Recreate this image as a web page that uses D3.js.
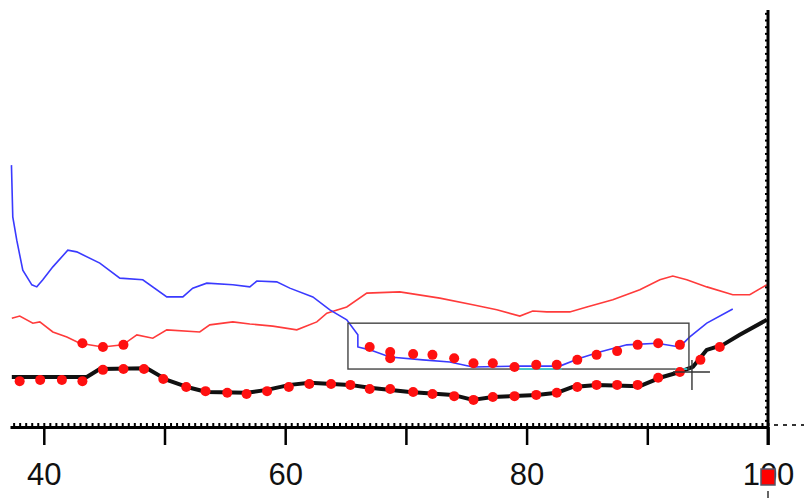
<!DOCTYPE html>
<html>
<head>
<meta charset="utf-8">
<script src="https://cdn.jsdelivr.net/npm/d3@7/dist/d3.min.js"></script>
<style>
  html, body { margin: 0; padding: 0; background: #fff; }
  svg { display: block; }
</style>
</head>
<body>
<svg id="chart" width="804" height="498"></svg>
<script>
// ---- data (x in axis units, y in arbitrary signal units 0..100) ----
const blueX = [37.32,37.43,37.76,38.26,39.01,39.42,39.92,40.75,41.99,42.73,44.64,46.30,48.20,50.19,51.52,52.34,53.50,55.66,57.07,57.65,59.30,60.38,62.29,63.70,65.10,66.02,66.02,67.01,68.67,71.40,73.64,75.54,78.86,82.75,84.41,86.06,88.30,90.79,92.69,93.52,94.93,97.08];
const blueY = [62.8,50.4,44.8,37.6,34.1,33.6,35.3,38.4,42.4,42.0,39.3,35.7,35.3,31.2,31.2,33.3,34.5,34.1,33.6,35.0,34.8,33.3,31.2,28.1,25.7,22.1,19.2,18.5,16.8,16.1,15.6,14.4,14.6,14.6,16.5,18.0,19.7,20.1,19.2,21.6,24.9,28.3];

const redX = [37.35,38.01,39.09,39.67,40.75,41.91,42.98,44.89,46.55,47.71,49.03,50.19,52.92,53.75,55.66,57.07,58.97,60.96,62.62,63.45,65.10,66.76,69.49,72.81,75.54,77.53,79.44,80.51,81.67,83.58,84.99,87.14,89.38,91.04,92.11,93.27,94.93,97.08,98.49,99.90];
const redY = [26.1,26.6,24.9,25.2,22.8,21.6,20.1,19.2,19.7,22.1,21.3,23.3,22.8,24.5,25.2,24.7,24.2,23.3,25.2,27.3,28.8,32.1,32.4,30.9,29.3,28.1,26.6,27.8,27.6,27.6,28.8,30.5,32.9,35.3,36.2,35.3,33.6,31.7,31.7,34.1];

const blackX = [37.35,43.56,44.64,48.53,50.19,51.85,53.50,56.82,58.48,60.38,62.04,65.35,67.01,70.32,73.89,75.54,77.20,80.85,82.50,83.83,85.82,89.38,91.04,92.69,93.77,94.93,96.26,97.66,99.90];
const blackY = [12.0,12.0,13.9,14.1,11.3,9.6,8.4,8.2,8.9,10.1,10.6,10.1,9.4,8.4,7.7,6.5,7.2,7.7,8.2,9.6,10.1,9.8,11.8,13.2,14.4,18.5,19.7,22.1,25.7];

// red sample points
const dotsBlackX = [38.0,39.7,41.5,43.2,44.9,46.6,48.3,49.9,51.8,53.4,55.2,56.8,58.5,60.3,62.0,63.8,65.4,67.0,68.7,70.6,72.2,74.0,75.6,77.2,79.0,80.8,82.5,84.2,85.8,87.5,89.2,90.9,92.7,94.4,96.0];
const dotsBlackY = [11.0,11.3,11.3,11.0,13.7,13.9,13.9,11.5,9.6,8.6,8.2,7.9,8.6,9.6,10.3,10.3,10.1,9.1,9.1,8.4,7.9,7.4,6.5,7.2,7.4,7.7,8.2,9.6,10.1,10.1,10.1,11.8,13.2,16.1,19.2];
const dotsRedX = [43.2,44.9,46.6];
const dotsRedY = [20.1,19.2,19.7];
const dotsBlueX = [67.0,68.7,68.7,70.6,72.2,74.0,75.6,77.2,79.0,80.8,82.5,84.2,85.8,87.5,89.2,90.9,92.7];
const dotsBlueY = [19.2,18.0,16.5,17.5,17.3,16.5,15.3,15.3,14.4,14.9,14.9,16.1,17.3,18.2,19.7,20.1,19.7];

// selection box and cursor
const boxX = [65.2, 93.45];
const boxY = [13.9, 24.9];
const cursorX = 93.7, cursorY = 13.2;
const cyanX = [[79.0, 82.9], [92.3, 93.3]];
const cyanY = 13.9;

const majorTicks = [40,50,60,70,80,90,100];
const tickLabels = ["40","","60","","80","","100"];

// ---- drawing ----
const svg = d3.select("#chart");
const x = d3.scaleLinear().domain([37.2, 100]).range([10, 768]);
const y = d3.scaleLinear().domain([0, 100]).range([427, 10]);

const zip = (xs, ys) => xs.map((v, i) => [v, ys[i]]);
const line = d3.line().x(d => x(d[0])).y(d => y(d[1]));

// lines
svg.append("path").datum(zip(redX, redY))
  .attr("d", line).attr("fill", "none")
  .attr("stroke", "#ff3b3b").attr("stroke-width", 1.6);
svg.append("path").datum(zip(blueX, blueY))
  .attr("d", line).attr("fill", "none")
  .attr("stroke", "#3a3aff").attr("stroke-width", 1.6);
svg.append("path").datum(zip(blackX, blackY))
  .attr("d", line).attr("fill", "none")
  .attr("stroke", "#111").attr("stroke-width", 4)
  .attr("stroke-linejoin", "round");

// box
svg.append("rect")
  .attr("x", x(boxX[0])).attr("y", y(boxY[1]))
  .attr("width", x(boxX[1]) - x(boxX[0]))
  .attr("height", y(boxY[0]) - y(boxY[1]))
  .attr("fill", "none").attr("stroke", "#444").attr("stroke-width", 1.4);

// cyan highlight on box bottom
cyanX.forEach(seg => {
  svg.append("line")
    .attr("x1", x(seg[0])).attr("x2", x(seg[1]))
    .attr("y1", y(cyanY)).attr("y2", y(cyanY))
    .attr("stroke", "#33dddd").attr("stroke-width", 1.6);
});

// dots
const allDots = zip(dotsBlackX, dotsBlackY)
  .concat(zip(dotsRedX, dotsRedY))
  .concat(zip(dotsBlueX, dotsBlueY));
svg.append("g").selectAll("circle").data(allDots).join("circle")
  .attr("cx", d => x(d[0])).attr("cy", d => y(d[1]))
  .attr("r", 5).attr("fill", "#ff1010");

// cursor cross
svg.append("line")
  .attr("x1", x(cursorX) - 19).attr("x2", x(cursorX) + 18)
  .attr("y1", y(cursorY)).attr("y2", y(cursorY))
  .attr("stroke", "#333").attr("stroke-width", 1.4);
svg.append("line")
  .attr("x1", x(cursorX)).attr("x2", x(cursorX))
  .attr("y1", y(cursorY) - 12).attr("y2", y(cursorY) + 18)
  .attr("stroke", "#333").attr("stroke-width", 1.4);

// bottom axis: minor ticks (upward)
const minorVals = d3.range(37.5, 100.01, 0.5);
const minorAxis = d3.axisTop(x).tickValues(minorVals).tickSize(3).tickSizeOuter(0).tickFormat("");
const gMinor = svg.append("g").attr("transform", "translate(0,426)").call(minorAxis);
gMinor.select(".domain").remove();
gMinor.selectAll("line").attr("stroke", "#000").attr("stroke-width", 2);

// bottom axis: major ticks + labels
const xAxis = d3.axisBottom(x).tickValues(majorTicks).tickSize(18).tickSizeOuter(0)
  .tickPadding(18).tickFormat((d, i) => tickLabels[i]);
const gx = svg.append("g").attr("transform", "translate(0,427)").call(xAxis);
gx.select(".domain").attr("stroke", "#000").attr("stroke-width", 3);
gx.selectAll(".tick line").attr("stroke", "#000").attr("stroke-width", 2.5);
gx.selectAll(".tick text")
  .attr("font-family", "Liberation Sans, Arial, sans-serif")
  .attr("font-size", 31).attr("fill", "#111");

// right vertical axis with minor ticks on the left
const yMinorVals = d3.range(0, 100.01, 1.6);
const yAxis = d3.axisLeft(y).tickValues(yMinorVals).tickSize(3).tickSizeOuter(0).tickFormat("");
const gy = svg.append("g").attr("transform", "translate(768,0)").call(yAxis);
gy.select(".domain").remove();
gy.selectAll("line").attr("stroke", "#000").attr("stroke-width", 2);
svg.append("line")
  .attr("x1", 768).attr("x2", 768).attr("y1", y(100)).attr("y2", 445)
  .attr("stroke", "#000").attr("stroke-width", 3);

// dotted reference line to the right
svg.append("line")
  .attr("x1", 774).attr("x2", 804).attr("y1", 425).attr("y2", 425)
  .attr("stroke", "#333").attr("stroke-width", 1.8).attr("stroke-dasharray", "4,5");

// red marker over the "100" label
svg.append("rect")
  .attr("x", x(100) - 7).attr("y", 469).attr("width", 14).attr("height", 16)
  .attr("fill", "#ff0000").attr("stroke", "#556").attr("stroke-width", 1.5);
svg.append("line")
  .attr("x1", x(100)).attr("x2", x(100)).attr("y1", 491).attr("y2", 498)
  .attr("stroke", "#333").attr("stroke-width", 1.5);
</script>
</body>
</html>
